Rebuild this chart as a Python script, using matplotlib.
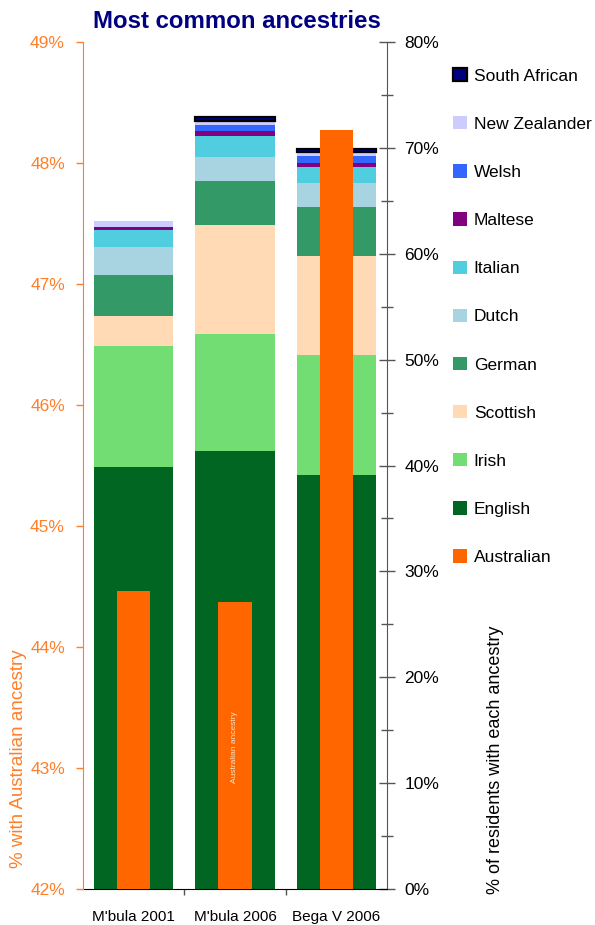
import matplotlib
matplotlib.use('Agg')
import matplotlib.pyplot as plt
from matplotlib.patches import Patch
from matplotlib.ticker import MultipleLocator, FuncFormatter, FixedLocator
import numpy as np

plt.rcParams['font.family'] = ['Liberation Sans', 'DejaVu Sans']

# data
places = ["M'bula 2001", "M'bula 2006", "Bega V 2006"]
australian = [44.46, 44.37, 48.27]   # left axis, %

english = [39.9, 41.4, 39.1]
irish = [11.4, 11.05, 11.3]
scottish = [2.85, 10.3, 9.35]
german = [3.8, 4.15, 4.7]
dutch = [2.7, 2.25, 2.2]
italian = [1.6, 2.0, 1.5]
maltese = [0.3, 0.45, 0.4]
welsh = [0.0, 0.55, 0.65]
new_zealander = [0.55, 0.4, 0.45]
south_african = [0.0, 0.35, 0.25]

stack = [
    ("English", english, "#006621"),
    ("Irish", irish, "#72dd72"),
    ("Scottish", scottish, "#ffdab4"),
    ("German", german, "#339966"),
    ("Dutch", dutch, "#a8d3e0"),
    ("Italian", italian, "#50cee0"),
    ("Maltese", maltese, "#800080"),
    ("Welsh", welsh, "#3366ff"),
    ("New Zealander", new_zealander, "#ccccff"),
    ("South African", south_african, "#000080"),
]
aus_color = "#ff6600"
label_orange = "#ff7f2a"
axis_grey = "#555555"

fig = plt.figure(figsize=(5.95, 9.25), dpi=100)
ax = fig.add_axes([83 / 595, 36 / 925, 304 / 595, 847 / 925])
ax2 = ax.twinx()   # Australian bars, drawn on top, axis on the left
x = np.arange(len(places))

bottom = np.zeros(len(places))
handles = []
for name, vals, col in stack:
    vals = np.array(vals)
    if name == "South African":
        edges = ['black' if v > 0 else 'none' for v in vals]
        ax.bar(x, vals, 0.78, bottom=bottom, color=col, edgecolor=edges, linewidth=1.6)
        handles.append(Patch(facecolor=col, edgecolor='black', linewidth=1.6, label=name))
    else:
        ax.bar(x, vals, 0.78, bottom=bottom, color=col, linewidth=0)
        handles.append(Patch(facecolor=col, label=name))
    bottom += vals

ax.set_xlim(-0.5, 2.5)
ax.set_ylim(0, 80)
ax.yaxis.tick_right()
ax.yaxis.set_label_position('right')
ax.yaxis.set_major_locator(MultipleLocator(10))
ax.yaxis.set_minor_locator(MultipleLocator(5))
ax.yaxis.set_major_formatter(FuncFormatter(lambda v, p: f"{v:.0f}%"))
ax.tick_params(axis='y', which='major', direction='inout', length=11, width=1,
               color=axis_grey, labelsize=12.5, pad=7)
ax.tick_params(axis='y', which='minor', direction='inout', length=9, width=1, color=axis_grey)
ax.set_xticks(x)
ax.set_xticklabels(places, fontsize=11)
ax.xaxis.set_minor_locator(FixedLocator([0.5, 1.5]))
ax.tick_params(axis='x', which='major', length=0, pad=15)
ax.tick_params(axis='x', which='minor', length=4, width=1, color=axis_grey)
for s in ['top', 'left']:
    ax.spines[s].set_visible(False)
ax.spines['right'].set_color(axis_grey)
ax.spines['bottom'].set_color('black')

ax2.bar(x, australian, 0.33, color=aus_color, linewidth=0)
ax2.set_ylim(42, 49)
ax2.yaxis.tick_left()
ax2.yaxis.set_label_position('left')
ax2.yaxis.set_major_locator(MultipleLocator(1))
ax2.yaxis.set_major_formatter(FuncFormatter(lambda v, p: f"{v:.0f}%"))
ax2.tick_params(axis='y', direction='out', length=5, width=1, color=label_orange,
                labelcolor=label_orange, labelsize=12.5, pad=8)
for s in ['top', 'right', 'bottom']:
    ax2.spines[s].set_visible(False)
ax2.spines['left'].set_color(label_orange)
ax2.text(1, 43.17, "Australian ancestry", rotation=90, ha='center', va='center',
         fontsize=6, color='#ffe2c8')

handles = handles[::-1] + [Patch(facecolor=aus_color, label="Australian")]
fig.legend(handles=handles, loc='upper left', bbox_to_anchor=(453 / 595, 1 - 68 / 925),
           frameon=False, fontsize=12.5, handlelength=0.8, handleheight=0.8,
           handletextpad=0.4, labelspacing=1.87, borderpad=0, borderaxespad=0)

fig.text(237 / 595, 1 - 21 / 925, "Most common ancestries", ha='center', va='center',
         fontsize=17.3, fontweight='bold', color='#000080')
fig.text(19 / 595, 1 - 759 / 925, "% with Australian ancestry", rotation=90,
         ha='center', va='center', fontsize=13.5, color=label_orange)
fig.text(496 / 595, 1 - 760 / 925, "% of residents with each ancestry", rotation=90,
         ha='center', va='center', fontsize=13, color='black')

fig.savefig("out.png", dpi=100)
